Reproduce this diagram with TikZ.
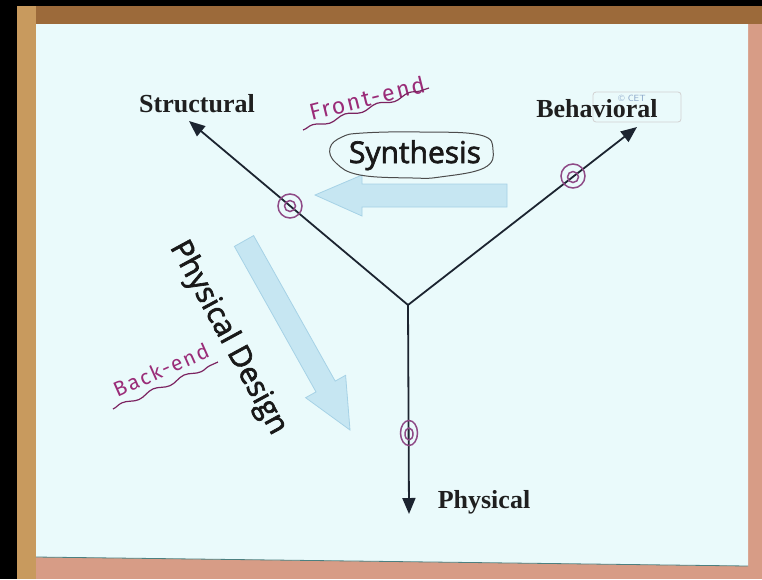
\documentclass[tikz,border=0pt]{standalone}
\usepackage{fontspec}
\setmainfont{Liberation Serif}
\newfontfamily\comicf{Open Sans}[FakeBold=2.2]
\newfontfamily\handf{Fira Sans}[LetterSpace=9]
\usetikzlibrary{arrows.meta,decorations.pathmorphing,shapes.geometric}
\definecolor{paper}{HTML}{EAFAFB}
\definecolor{woodtop}{HTML}{9C6A3A}
\definecolor{woodleft}{HTML}{C89A5E}
\definecolor{woodpink}{HTML}{D79C86}
\definecolor{handc}{HTML}{9A2C78}
\definecolor{circc}{HTML}{8E4A86}
\definecolor{blkfill}{HTML}{C6E6F2}
\definecolor{blkedge}{HTML}{A6D2E6}
\definecolor{axisc}{HTML}{1C2430}
\definecolor{wmc}{HTML}{8AA6C8}
\tikzset{
  axisline/.style={draw=axisc, line width=1.8pt, -{Triangle[length=16pt,width=13pt]}},
  axlabel/.style={font=\fontsize{26}{30}\selectfont\bfseries, text=black!88, inner sep=0pt, anchor=base},
  ringout/.style={circle, draw=circc, line width=1.5pt, minimum size=24pt, inner sep=0pt},
  ringin/.style={circle, draw=circc, line width=1.5pt, minimum size=11pt, inner sep=0pt},
  handtext/.style={font=\handf\fontsize{23}{26}\selectfont, text=handc, inner sep=0pt},
  wavy/.style={draw=handc!80!black, line width=1.2pt, decorate, decoration={snake, amplitude=2pt, segment length=34pt}},
  comic/.style={font=\comicf\fontsize{30}{34}\selectfont, text=black!90, inner sep=0pt},
  blockarrow/.style={fill=blkfill, draw=blkedge, line width=0.8pt},
}
\begin{document}
\begin{tikzpicture}[x=1pt,y=-1pt]
\useasboundingbox (0,0) rectangle (762,579);
% frame and paper
\fill[woodpink] (0,0) rectangle (762,579);
\fill[woodtop] (0,0) rectangle (762,24);
\fill[woodleft] (0,0) rectangle (36,579);
\fill[black] (0,0) rectangle (17,579);
\fill[black] (0,0) rectangle (762,6);
\fill[paper] (36,24) -- (748,24) -- (748,566) -- (36,557) -- cycle;
\draw[gray!60!teal, line width=0.8pt] (36,557) -- (748,566);

% watermark
\node[draw=gray!35, rounded corners=3pt, minimum width=88pt, minimum height=30pt, line width=0.8pt] (wm) at (637,107) {};
\node[font=\sffamily\fontsize{9}{10}\selectfont, text=wmc, inner sep=0pt] (wm1) at (632,98) {© CET};

% block arrows
\filldraw[blockarrow] (507,184) -- (362,184) -- (362,175) -- (315,195) -- (362,216) -- (362,207) -- (507,207) -- cycle;
\filldraw[blockarrow] (234.4,246.4) -- (253.6,235.6) -- (335.2,381.1) -- (345.6,375.3) -- (350,430) -- (305.6,397.7) -- (316.0,391.9) -- cycle;

% axes
\coordinate (c) at (408,305);
\coordinate (st) at (189,121);
\coordinate (bt) at (637,127);
\coordinate (pt) at (409,514);
\draw[axisline] (c) -- (st);
\draw[axisline] (c) -- (bt);
\draw[axisline] (c) -- (pt);

% rings
\node[ringout] (r1) at (290,206) {};
\node[ringin] (r1i) at (290,206) {};
\node[ringout] (r2) at (573,176) {};
\node[ringin] (r2i) at (573,177) {};
\node[ellipse, draw=circc, line width=1.5pt, minimum width=17pt, minimum height=25pt, inner sep=0pt] (r3) at (409,433) {};
\node[ellipse, draw=circc, line width=1.5pt, minimum width=8pt, minimum height=12pt, inner sep=0pt] (r3i) at (409,434) {};

% axis labels
\node[axlabel] (ls) at (197,112) {Structural};
\node[axlabel] (lb) at (597,117) {Behavioral};
\node[axlabel] (lp) at (484,508) {Physical};

% Synthesis
\draw[black!70, line width=1pt] plot[smooth cycle, tension=0.7] coordinates {(330,148) (342,137) (363,133) (420,132) (480,135) (493,150) (484,168) (440,177) (413,178) (360,175) (336,163)};
\node[comic, anchor=base] (syn) at (415,163) {Synthesis};

% Physical Design
\node[comic, rotate=-61.5] (pd) at (228,338) {Physical Design};

% handwritten
\node[handtext, rotate=14] (fe) at (367,98) {Front-end};
\coordinate (fe1) at (303,130);
\coordinate (fe2) at (429,88);
\draw[wavy] (fe1) -- (fe2);
\node[handtext, rotate=24, font=\handf\fontsize{21}{24}\selectfont] (be) at (161,370) {Back-end};
\coordinate (be1) at (113,409);
\coordinate (be2) at (218,362);
\draw[wavy] (be1) -- (be2);
\end{tikzpicture}
\end{document}
